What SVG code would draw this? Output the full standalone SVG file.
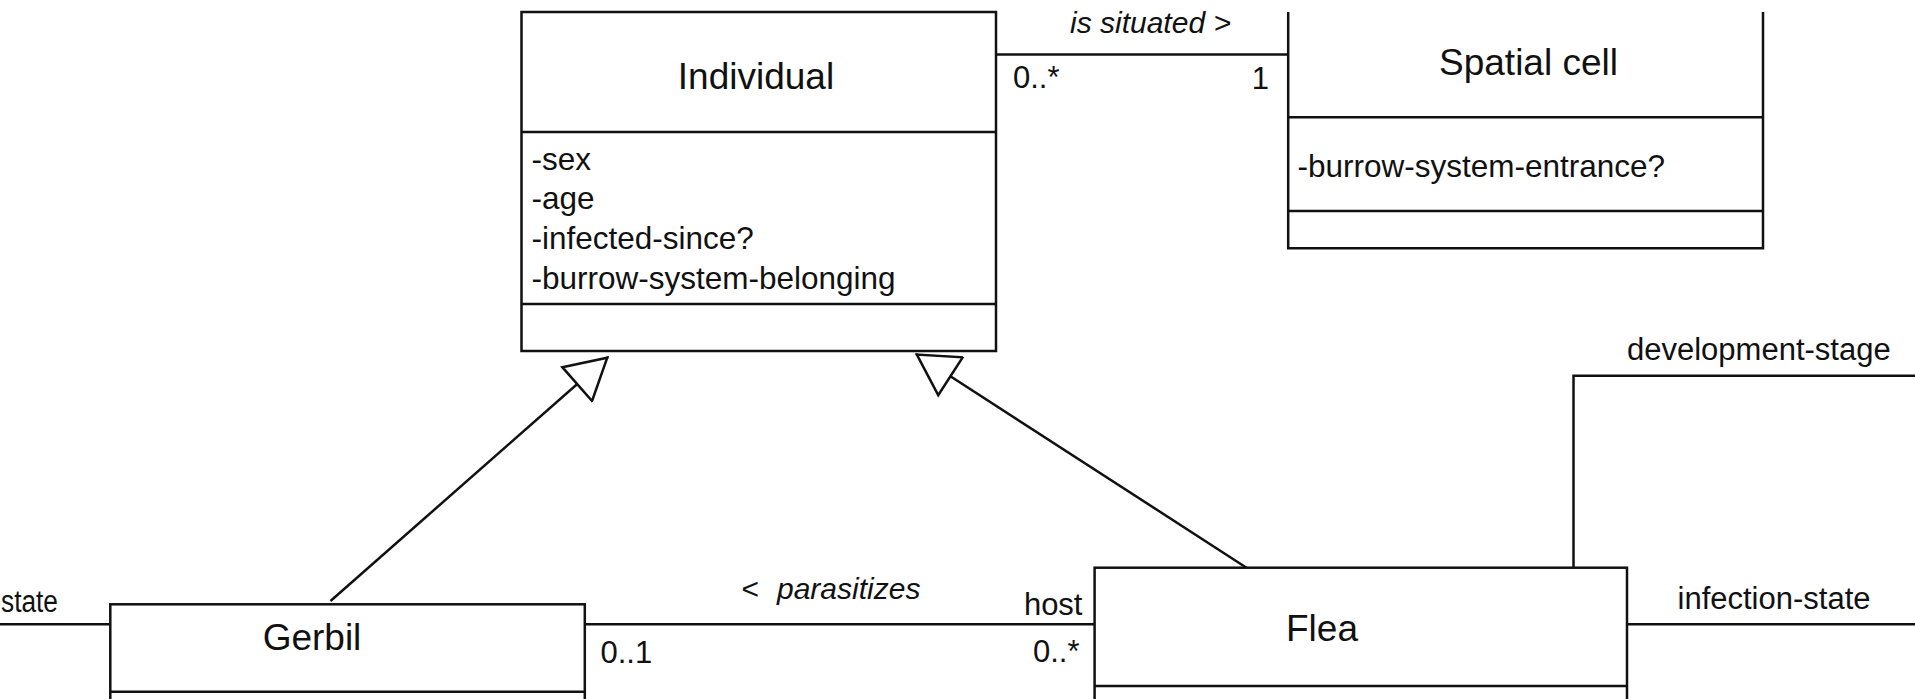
<svg xmlns="http://www.w3.org/2000/svg" width="1915" height="699" viewBox="0 0 1915 699">
<style>
.box{fill:#fff;stroke:#111;stroke-width:2.5}
.ln{fill:none;stroke:#111;stroke-width:2.5}
.title{font-family:"Liberation Sans",Arial,sans-serif;font-size:37px;fill:#111;text-anchor:middle}
.attr{font-family:"Liberation Sans",Arial,sans-serif;font-size:31.5px;fill:#111}
.lbl{font-family:"Liberation Sans",Arial,sans-serif;font-size:31px;fill:#111}
.it{font-family:"Liberation Sans",Arial,sans-serif;font-size:30px;font-style:italic;fill:#111}
</style>
<defs>
<marker id="gen" markerUnits="userSpaceOnUse" markerWidth="44" markerHeight="49" refX="41" refY="24" orient="auto" viewBox="-2 -1.5 44 49">
<path d="M0,1.5 L40,24 L0,46.5 Z" fill="#fff" stroke="#111" stroke-width="2.5"/>
</marker>
</defs>
<rect width="1915" height="699" fill="#fff"/>
<g id="connectors">
<line class="ln" x1="996" y1="54.5" x2="1288" y2="54.5"/>
<text class="it" x="1070" y="33">is situated &gt;</text>
<text class="lbl" x="1013" y="88">0..*</text>
<text class="lbl" x="1269" y="89" text-anchor="end">1</text>
<line class="ln" x1="330.5" y1="601" x2="608" y2="357" marker-end="url(#gen)"/>
<line class="ln" x1="1246.5" y1="567.7" x2="916" y2="354" marker-end="url(#gen)"/>
<line class="ln" x1="585" y1="624.3" x2="1095" y2="624.3"/>
<text class="it" y="598.5"><tspan x="741">&lt;</tspan><tspan x="777">parasitizes</tspan></text>
<text class="lbl" x="600.5" y="663.3">0..1</text>
<text class="lbl" x="1082.5" y="615" text-anchor="end">host</text>
<text class="lbl" x="1079.5" y="661.7" text-anchor="end">0..*</text>
<line class="ln" x1="0" y1="624.3" x2="110" y2="624.3"/>
<text class="lbl" x="1" y="611.7" textLength="57" lengthAdjust="spacingAndGlyphs">state</text>
<line class="ln" x1="1627" y1="624.3" x2="1915" y2="624.3"/>
<text class="lbl" x="1677.5" y="609.3">infection-state</text>
<polyline class="ln" points="1573.5,567.7 1573.5,375.7 1915,375.7"/>
<text class="lbl" x="1627" y="360">development-stage</text>
</g>
<g id="individual">
<rect class="box" x="521.5" y="12" width="474.5" height="339"/>
<line class="ln" x1="521.5" y1="132" x2="996" y2="132"/>
<line class="ln" x1="521.5" y1="304" x2="996" y2="304"/>
<text class="title" x="756" y="89">Individual</text>
<text class="attr" x="531.5" y="170">-sex</text>
<text class="attr" x="531.5" y="209">-age</text>
<text class="attr" x="531.5" y="249">-infected-since?</text>
<text class="attr" x="531.5" y="289">-burrow-system-belonging</text>
</g>
<g id="spatial-cell">
<path class="box" d="M1288.2,12 V248.3 H1763 V12"/>
<line class="ln" x1="1288.2" y1="117.3" x2="1763" y2="117.3"/>
<line class="ln" x1="1288.2" y1="211" x2="1763" y2="211"/>
<text class="title" x="1528.5" y="75">Spatial cell</text>
<text class="attr" x="1297.5" y="176.7">-burrow-system-entrance?</text>
</g>
<g id="gerbil">
<rect class="box" x="110.3" y="604.3" width="474.5" height="130"/>
<line class="ln" x1="110.3" y1="691.7" x2="584.8" y2="691.7"/>
<text class="title" x="312" y="650">Gerbil</text>
</g>
<g id="flea">
<rect class="box" x="1094.6" y="567.7" width="532.4" height="160"/>
<line class="ln" x1="1094.6" y1="686" x2="1627" y2="686"/>
<text class="title" x="1322" y="640.7">Flea</text>
</g>
</svg>
